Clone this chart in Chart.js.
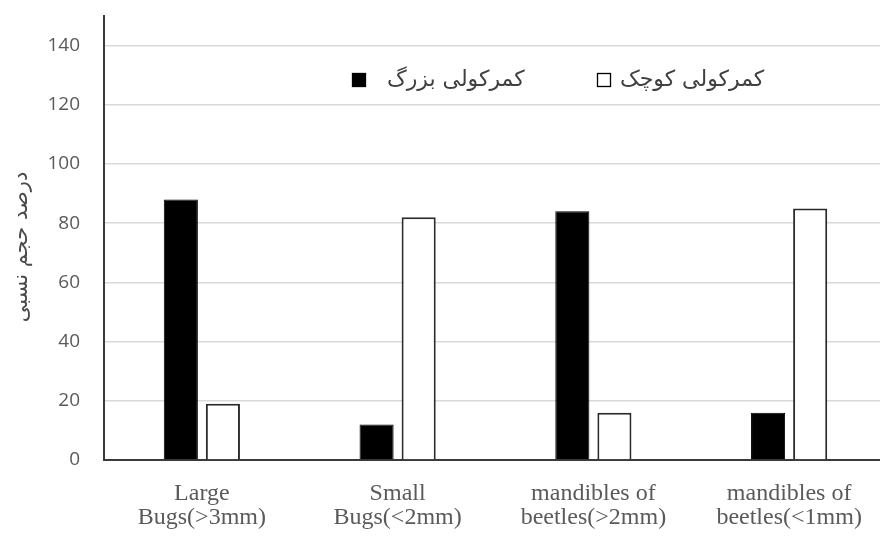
<!DOCTYPE html>
<html>
<head>
<meta charset="utf-8">
<script src="https://cdn.jsdelivr.net/npm/chart.js@4/dist/chart.umd.min.js"></script>
<style>
  html, body { margin: 0; padding: 0; background: #fff; overflow: hidden; }
  #wrap { width: 888px; height: 536px; }
</style>
</head>
<body>
<div id="wrap"><canvas id="c" width="888" height="536"></canvas></div>
<script>
// Prey categories (two-line labels)
const categories = [
  ['Large', 'Bugs(>3mm)'],
  ['Small', 'Bugs(<2mm)'],
  ['mandibles of', 'beetles(>2mm)'],
  ['mandibles of', 'beetles(<1mm)']
];
// Relative volume percentages
const largeWaist = [88, 12, 84, 16];
const smallWaist = [19, 82, 16, 85];
const seriesNames = ['کمرکولی بزرگ', 'کمرکولی کوچک'];
const yTitle = 'درصد حجم نسبی';

// In-plot legend drawn near the top of the chart area
const insideLegend = {
  id: 'insideLegend',
  afterDraw(chart) {
    const ctx = chart.ctx;
    const items = [
      { box: 352, text: 387 },
      { box: 597, text: 620 }
    ];
    const y = 80;
    ctx.save();
    chart.data.datasets.forEach((ds, i) => {
      const it = items[i];
      ctx.fillStyle = ds.backgroundColor;
      ctx.fillRect(it.box, y - 7, 14, 14);
      ctx.strokeStyle = '#000';
      ctx.lineWidth = 1.3;
      ctx.strokeRect(it.box + 0.5, y - 6.5, 13, 13);
      ctx.fillStyle = '#404040';
      ctx.font = '22px "DejaVu Serif", "DejaVu Sans", serif';
      ctx.textBaseline = 'middle';
      ctx.direction = 'rtl';
      ctx.textAlign = 'left';
      const w = ctx.measureText(ds.label).width;
      ctx.textAlign = 'right';
      ctx.fillText(ds.label, it.text + w, y);
    });
    ctx.restore();
  }
};

// Rotated y-axis title, placed slightly below the axis midpoint
const axisTitle = {
  id: 'axisTitle',
  afterDraw(chart) {
    const ctx = chart.ctx;
    const area = chart.chartArea;
    ctx.save();
    ctx.translate(22, (area.top + area.bottom) / 2 + 9);
    ctx.rotate(-Math.PI / 2);
    ctx.fillStyle = '#4a4a4a';
    ctx.font = '21px "DejaVu Serif", "DejaVu Sans", serif';
    ctx.textAlign = 'center';
    ctx.textBaseline = 'middle';
    ctx.direction = 'rtl';
    ctx.fillText(yTitle, 0, 0);
    ctx.restore();
  }
};

new Chart(document.getElementById('c'), {
  type: 'bar',
  data: {
    labels: categories,
    datasets: [
      {
        label: seriesNames[0],
        data: largeWaist,
        backgroundColor: '#000000',
        borderColor: '#000000',
        borderWidth: 1
      },
      {
        label: seriesNames[1],
        data: smallWaist,
        backgroundColor: '#ffffff',
        borderColor: '#2b2b2b',
        borderWidth: 2
      }
    ]
  },
  options: {
    responsive: false,
    animation: false,
    devicePixelRatio: 1,
    layout: { padding: { top: 16, right: 1, left: 0, bottom: 0 } },
    datasets: {
      bar: { categoryPercentage: 0.43, barPercentage: 0.81 }
    },
    plugins: {
      legend: { display: false },
      tooltip: { enabled: false }
    },
    scales: {
      x: {
        grid: { display: false, drawTicks: false },
        border: { display: true, color: '#3a3a3a', width: 2 },
        ticks: {
          color: '#5a5a5a',
          font: { family: '"Liberation Serif", "Times New Roman", serif', size: 24, lineHeight: 1.0 },
          padding: 22,
          maxRotation: 0,
          autoSkip: false
        },
        afterFit(scale) { scale.height = 76; }
      },
      y: {
        min: 0,
        max: 150,
        ticks: {
          stepSize: 20,
          color: '#5a5a5a',
          font: { family: '"Open Sans", "Liberation Sans", sans-serif', size: 19 },
          padding: 24
        },
        afterBuildTicks(scale) {
          scale.ticks = scale.ticks.filter(t => t.value <= 140);
        },
        grid: { color: '#d9d9d9', lineWidth: 1.5, drawTicks: false },
        border: { display: true, color: '#3a3a3a', width: 2 },
        afterFit(scale) {
          scale.width = 104;
          scale.paddingTop = 0;
          scale.paddingBottom = 0;
        }
      }
    }
  },
  plugins: [insideLegend, axisTitle]
});
</script>
</body>
</html>
